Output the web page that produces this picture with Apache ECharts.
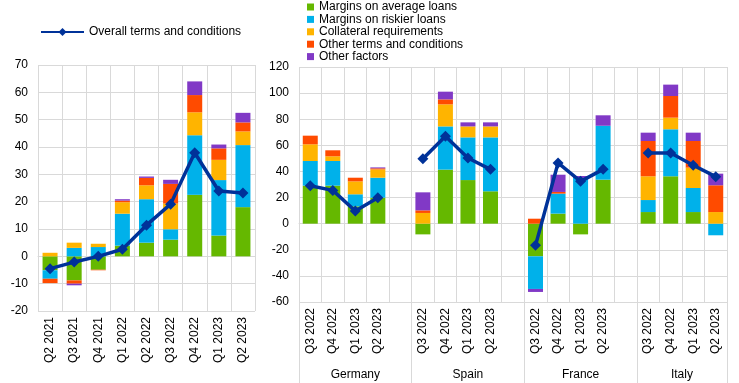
<!DOCTYPE html>
<html><head><meta charset="utf-8">
<script src="https://cdn.jsdelivr.net/npm/echarts@6/dist/echarts.min.js"></script>
<style>html,body{margin:0;padding:0;background:#fff}#c{width:739px;height:383px}</style>
</head><body><div id="c"></div>
<script>
// ---- Left panel (euro area) ----
const leftCats = ['Q2 2021','Q3 2021','Q4 2021','Q1 2022','Q2 2022','Q3 2022','Q4 2022','Q1 2023','Q2 2023'];
const leftAvg     = [-5.1, -8.8, -4.9, 3.9, 5.0, 6.1, 22.5, 7.6, 18.0];
const leftRiskier = [-3.1, 3.1, 3.4, 11.7, 15.9, 3.8, 21.8, 20.3, 22.7];
const leftColl    = [1.3, 1.9, 1.2, 4.2, 5.1, 9.4, 8.4, 7.4, 5.0];
const leftOther   = [-1.6, -1.2, -0.2, 0.6, 2.7, 7.2, 6.3, 4.2, 3.3];
const leftFactors = [0, -0.6, 0, 0.5, 0.5, 1.5, 5.0, 1.4, 3.5];
const leftOverall = [-4.5, -2.1, 0, 2.6, 11.4, 19.1, 37.9, 23.9, 23.2];

// ---- Right panel (countries), 4 quarters each: Germany, Spain, France, Italy ----
const countries = ['Germany','Spain','France','Italy'];
const quarters  = ['Q3 2022','Q4 2022','Q1 2023','Q2 2023'];
const ctyAvg     = [29.1, 29.1, 13.3, 19.9,   -8.2, 41.4, 33.4, 24.8,   -25.0, 7.7, -8.2, 33.7,   8.9, 36.3, 8.9, 0];
const ctyRiskier = [18.9, 18.9, 9.2, 15.3,    0, 33.1, 32.7, 41.3,      -25.0, 15.3, 35.0, 41.3,  9.2, 36.0, 18.4, -8.9];
const ctyColl    = [12.8, 3.6, 9.9, 6.4,      8.2, 16.9, 8.4, 8.4,      0, 0, 0, 0,               18.2, 8.9, 15.6, 8.9];
const ctyOther   = [6.6, 4.6, 2.8, 0.8,       2.0, 3.8, 0, 0,           3.8, 1.3, 0, 0,           27.0, 16.6, 20.4, 20.5];
const ctyFactors = [0, 0, 0, 0.7,             13.8, 5.9, 3.1, 3.1,      -2.3, 13.2, 1.5, 8.0,     6.4, 8.7, 6.4, 8.9];
const ctyOverall = [29.1, 25.5, 9.7, 19.9,    49.8, 66.9, 50.3, 41.6,   -16.6, 46.5, 32.4, 41.6,  54.1, 54.1, 44.7, 36.0];

const names = ['Margins on average loans','Margins on riskier loans','Collateral requirements','Other terms and conditions','Other factors'];
const colors = ['#65B800','#00B1EA','#FFB400','#FF4B00','#8139C6'];
const lineName = 'Overall terms and conditions';
const lineColor = '#003299';

// build right categories with gap slots between countries
const rightCats = [];
countries.forEach((c, i) => { quarters.forEach(q => rightCats.push(q)); if (i < countries.length - 1) rightCats.push(''); });
function withGaps(arr) {
  const out = [];
  countries.forEach((c, i) => {
    for (let k = 0; k < quarters.length; k++) out.push(arr[i * quarters.length + k]);
    if (i < countries.length - 1) out.push(null);
  });
  return out;
}
// group separators and centres (in slot units)
const seps = [-0.5];
countries.forEach((c, i) => seps.push(seps[seps.length - 1] + quarters.length + (i < countries.length - 1 ? 1 : 0)));
const centres = countries.map((c, i) => (seps[i] + seps[i + 1]) / 2);

const gridCol = '#d9d9d9';
const font = 'Liberation Sans, Arial, sans-serif';
const lbl = { color: '#000', fontSize: 12, fontFamily: font };

const leftData = [leftAvg, leftRiskier, leftColl, leftOther, leftFactors];
const rightData = [ctyAvg, ctyRiskier, ctyColl, ctyOther, ctyFactors];

const series = [];
leftData.forEach((d, i) => series.push({
  name: names[i], type: 'bar', xAxisIndex: 0, yAxisIndex: 0, stack: 'L', barWidth: 15,
  itemStyle: { color: colors[i] }, data: d
}));
series.push({
  name: lineName, type: 'line', xAxisIndex: 0, yAxisIndex: 0, data: leftOverall, z: 5,
  symbol: 'diamond', symbolSize: 11, lineStyle: { color: lineColor, width: 3.5 }, itemStyle: { color: lineColor }
});
rightData.forEach((d, i) => series.push({
  name: names[i], type: 'bar', xAxisIndex: 1, yAxisIndex: 1, stack: 'R', barWidth: 15,
  itemStyle: { color: colors[i] }, data: withGaps(d)
}));
series.push({
  name: lineName, type: 'line', xAxisIndex: 1, yAxisIndex: 1, data: withGaps(ctyOverall), z: 5,
  symbol: 'diamond', symbolSize: 11, connectNulls: false, lineStyle: { color: lineColor, width: 3.5 }, itemStyle: { color: lineColor }
});

const chart = echarts.init(document.getElementById('c'), null, { renderer: 'canvas' });
chart.setOption({
  animation: false,
  backgroundColor: '#fff',
  textStyle: { fontFamily: font },
  legend: [
    { data: [lineName], left: 35, top: 21, itemWidth: 43, itemHeight: 10, textStyle: lbl, selectedMode: false },
    { data: names, orient: 'vertical', left: 302, top: -4, itemWidth: 7, itemHeight: 7, itemGap: 0.4,
      textStyle: Object.assign({ lineHeight: 12 }, lbl), icon: 'rect', selectedMode: false }
  ],
  grid: [
    { left: 38, right: 484, top: 65, bottom: 72 },
    { left: 299, right: 12, top: 67, bottom: 81 }
  ],
  xAxis: [
    { type: 'category', gridIndex: 0, data: leftCats,
      axisLine: { lineStyle: { color: gridCol } },
      axisTick: { show: true, length: 4, lineStyle: { color: gridCol } },
      splitLine: { show: true, lineStyle: { color: gridCol } },
      axisLabel: Object.assign({ rotate: 90, margin: 6, interval: 0 }, lbl) },
    { type: 'category', gridIndex: 1, data: rightCats,
      axisLine: { lineStyle: { color: gridCol } },
      axisTick: { show: false },
      splitLine: { show: true, interval: 0, lineStyle: { color: gridCol } },
      axisLabel: Object.assign({ rotate: 90, margin: 6, interval: 0 }, lbl) },
    { type: 'value', gridIndex: 1, position: 'bottom', offset: 81, min: seps[0], max: seps[seps.length - 1],
      axisLine: { show: false },
      axisTick: { show: true, inside: true, length: 81, customValues: seps, lineStyle: { color: gridCol } },
      splitLine: { show: false },
      axisLabel: Object.assign({ inside: true, margin: 2, customValues: centres,
        formatter: v => { const i = centres.findIndex(c => Math.abs(c - v) < 1e-6); return i >= 0 ? countries[i] : ''; } }, lbl) }
  ],
  yAxis: [
    { type: 'value', gridIndex: 0, min: -20, max: 70, interval: 10,
      axisLine: { show: false }, axisTick: { show: false },
      splitLine: { lineStyle: { color: gridCol } }, axisLabel: Object.assign({ margin: 10 }, lbl) },
    { type: 'value', gridIndex: 1, min: -60, max: 120, interval: 20,
      axisLine: { show: false }, axisTick: { show: false },
      splitLine: { lineStyle: { color: gridCol } }, axisLabel: Object.assign({ margin: 10 }, lbl) }
  ],
  series: series
});
</script></body></html>
